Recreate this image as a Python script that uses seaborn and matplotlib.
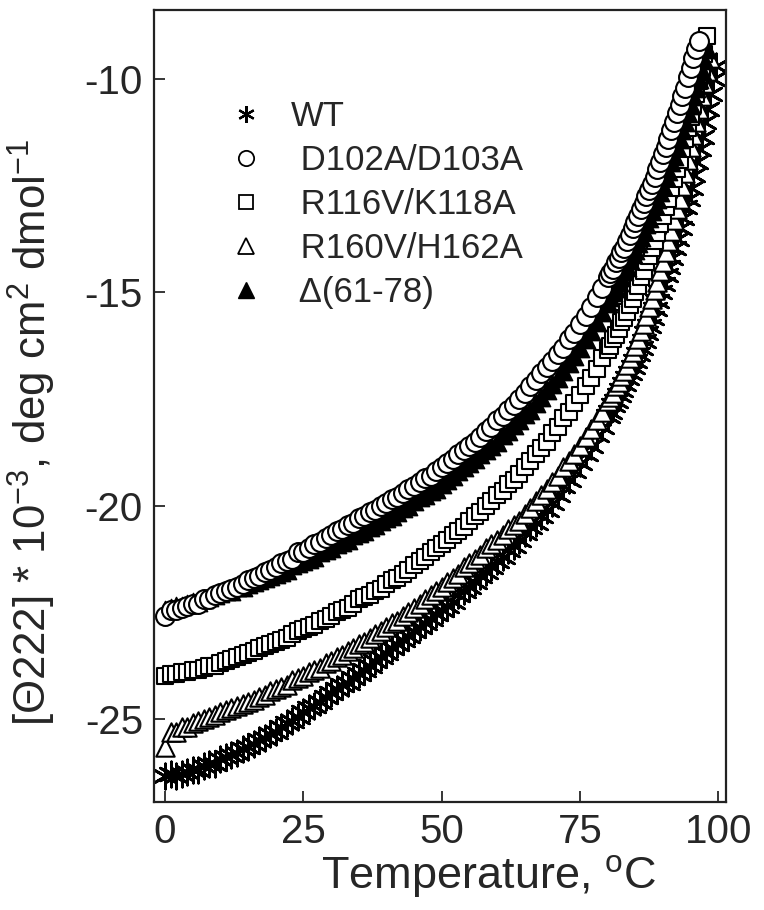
import numpy as np
import pandas as pd
import matplotlib
matplotlib.use("Agg")
import matplotlib.pyplot as plt
import seaborn as sns
from matplotlib.lines import Line2D

# ---------------- data ----------------
series_names = ["WT", "D102A/D103A", "R116V/K118A", "R160V/H162A", "\u0394(61-78)"]

# temperatures: 1 degC steps 0..80, then 0.5 degC steps above 80
temp_low = list(range(0, 81))

wt_low = [-26.35, -26.3, -26.35, -26.3, -26.25, -26.2, -26.2, -26.1, -26.05, -26.05,
          -25.95, -25.9, -25.85, -25.8, -25.7, -25.65, -25.6, -25.5, -25.45, -25.35,
          -25.3, -25.2, -25.1, -25.05, -24.95, -24.85, -24.75, -24.7, -24.6, -24.5,
          -24.4, -24.3, -24.2, -24.15, -24.05, -23.95, -23.85, -23.75, -23.65, -23.55,
          -23.45, -23.35, -23.25, -23.15, -23.05, -22.95, -22.85, -22.75, -22.65, -22.55,
          -22.45, -22.35, -22.25, -22.1, -22.0, -21.9, -21.8, -21.65, -21.55, -21.45,
          -21.3, -21.2, -21.05, -20.95, -20.8, -20.65, -20.5, -20.4, -20.25, -20.1,
          -19.95, -19.75, -19.55, -19.4, -19.2, -19.0, -18.8, -18.6, -18.35, -18.15,
          -17.9]
wt_high = [-17.8, -17.65, -17.55, -17.4, -17.3, -17.15, -17.0, -16.9, -16.75, -16.6,
           -16.45, -16.3, -16.15, -15.95, -15.8, -15.6, -15.4, -15.2, -15.0, -14.8,
           -14.6, -14.4, -14.2, -13.95, -13.75, -13.5, -13.25, -13.0, -12.8, -12.55,
           -12.25, -11.95, -11.65, -11.35, -11.0, -10.7, -10.35, -10.0, -9.7]

d102_low = [-22.6, -22.45, -22.45, -22.4, -22.35, -22.3, -22.3, -22.2, -22.2, -22.1,
            -22.05, -22.0, -21.95, -21.9, -21.85, -21.75, -21.7, -21.65, -21.55, -21.5,
            -21.45, -21.35, -21.3, -21.25, -21.1, -21.1, -21.0, -20.9, -20.85, -20.75,
            -20.7, -20.6, -20.55, -20.45, -20.4, -20.3, -20.25, -20.15, -20.1, -20.0,
            -19.95, -19.85, -19.8, -19.7, -19.6, -19.55, -19.45, -19.35, -19.3, -19.2,
            -19.1, -19.0, -18.9, -18.8, -18.7, -18.6, -18.5, -18.4, -18.25, -18.15,
            -18.0, -17.9, -17.75, -17.65, -17.5, -17.35, -17.2, -17.05, -16.9, -16.75,
            -16.6, -16.45, -16.3, -16.1, -15.95, -15.75, -15.55, -15.35, -15.1, -14.9,
            -14.65]
d102_high = [-14.55, -14.45, -14.3, -14.2, -14.05, -13.95, -13.8, -13.65, -13.5, -13.35,
             -13.2, -13.05, -12.9, -12.75, -12.6, -12.45, -12.3, -12.1, -11.95, -11.75,
             -11.6, -11.4, -11.2, -11.0, -10.8, -10.6, -10.4, -10.2, -9.95, -9.75,
             -9.5, -9.3, -9.1]

r116_low = [-24.0, -23.95, -23.95, -23.9, -23.9, -23.85, -23.85, -23.8, -23.75, -23.75,
            -23.7, -23.65, -23.6, -23.55, -23.5, -23.45, -23.4, -23.35, -23.3, -23.25,
            -23.2, -23.15, -23.1, -23.0, -22.95, -22.9, -22.85, -22.8, -22.7, -22.65,
            -22.6, -22.5, -22.45, -22.4, -22.3, -22.2, -22.15, -22.1, -22.0, -21.95,
            -21.85, -21.75, -21.7, -21.6, -21.5, -21.4, -21.3, -21.2, -21.1, -21.0,
            -20.9, -20.8, -20.7, -20.6, -20.5, -20.35, -20.25, -20.15, -20.0, -19.9,
            -19.75, -19.65, -19.5, -19.4, -19.25, -19.1, -18.95, -18.8, -18.65, -18.5,
            -18.3, -18.15, -17.95, -17.8, -17.6, -17.4, -17.2, -17.0, -16.8, -16.55,
            -16.35]
r116_high = [-16.25, -16.1, -16.0, -15.85, -15.7, -15.6, -15.45, -15.3, -15.15, -15.0,
             -14.85, -14.65, -14.5, -14.3, -14.15, -13.95, -13.8, -13.6, -13.4, -13.2,
             -13.0, -12.8, -12.55, -12.35, -12.1, -11.9, -11.65, -11.4, -11.15, -10.9,
             -10.6, -10.35, -10.05, -9.75, -9.4, -9.0]

r160_low = [-25.65, -25.3, -25.3, -25.2, -25.2, -25.1, -25.05, -25.0, -24.95, -24.9,
            -24.85, -24.8, -24.75, -24.7, -24.65, -24.6, -24.55, -24.5, -24.45, -24.35,
            -24.3, -24.25, -24.2, -24.1, -24.05, -24.0, -23.9, -23.85, -23.8, -23.7,
            -23.65, -23.55, -23.5, -23.4, -23.35, -23.25, -23.2, -23.1, -23.0, -22.95,
            -22.85, -22.75, -22.7, -22.6, -22.5, -22.4, -22.3, -22.2, -22.1, -22.0,
            -21.9, -21.8, -21.7, -21.6, -21.45, -21.35, -21.25, -21.15, -21.0, -20.9,
            -20.8, -20.7, -20.55, -20.45, -20.35, -20.2, -20.05, -19.9, -19.75, -19.6,
            -19.45, -19.3, -19.1, -18.95, -18.8, -18.6, -18.4, -18.2, -18.0, -17.8,
            -17.55]
r160_high = [-17.45, -17.35, -17.2, -17.1, -16.95, -16.85, -16.7, -16.55, -16.4, -16.25,
             -16.1, -15.9, -15.75, -15.55, -15.35, -15.15, -14.95, -14.75, -14.5, -14.3,
             -14.05, -13.8, -13.55, -13.3, -13.05, -12.8, -12.5, -12.2, -11.9, -11.6,
             -11.3, -11.0, -10.7, -10.4, -10.1, -9.8, -9.5]

del61_low = [-22.45, -22.4, -22.35, -22.35, -22.3, -22.25, -22.25, -22.2, -22.15, -22.1,
             -22.05, -22.0, -22.0, -21.9, -21.9, -21.85, -21.8, -21.75, -21.7, -21.65,
             -21.6, -21.55, -21.5, -21.4, -21.35, -21.3, -21.25, -21.2, -21.1, -21.05,
             -21.0, -20.9, -20.85, -20.8, -20.7, -20.65, -20.6, -20.5, -20.45, -20.35,
             -20.3, -20.25, -20.15, -20.05, -20.0, -19.9, -19.8, -19.75, -19.65, -19.6,
             -19.5, -19.4, -19.3, -19.2, -19.1, -19.0, -18.9, -18.8, -18.7, -18.6,
             -18.5, -18.35, -18.25, -18.1, -18.0, -17.85, -17.75, -17.6, -17.45, -17.3,
             -17.15, -17.0, -16.85, -16.65, -16.5, -16.3, -16.1, -15.9, -15.7, -15.45,
             -15.25]
del61_high = [-15.1, -15.0, -14.9, -14.75, -14.65, -14.5, -14.4, -14.25, -14.1, -14.0,
              -13.85, -13.7, -13.55, -13.4, -13.25, -13.1, -12.95, -12.8, -12.65, -12.5,
              -12.3, -12.15, -11.95, -11.8, -11.6, -11.4, -11.2, -11.0, -10.8, -10.6,
              -10.4, -10.2, -10.0, -9.8, -9.55, -9.3]

x_ticks = [0, 25, 50, 75, 100]
y_ticks = [-25, -20, -15, -10]


def temps_for(high):
    return temp_low + [80.5 + 0.5 * i for i in range(len(high))]


frames = []
for name, lo, hi in [("WT", wt_low, wt_high),
                     ("D102A/D103A", d102_low, d102_high),
                     ("R116V/K118A", r116_low, r116_high),
                     ("R160V/H162A", r160_low, r160_high),
                     ("\u0394(61-78)", del61_low, del61_high)]:
    frames.append(pd.DataFrame({"T": temps_for(hi), "v": lo + hi, "series": name}))
df = pd.concat(frames, ignore_index=True)

# ---------------- style ----------------
sns.set_style("ticks")
plt.rcParams["font.family"] = ["Liberation Sans", "DejaVu Sans"]
plt.rcParams["mathtext.fontset"] = "custom"
plt.rcParams["mathtext.rm"] = "Liberation Sans"
plt.rcParams["axes.unicode_minus"] = False

fig = plt.figure(figsize=(7.64, 9.10), dpi=100)
ax = fig.add_axes([0.2016, 0.1187, 0.7487, 0.8703])

asterisk = (6, 2, 0)
style = {
    "WT": dict(marker=asterisk, s=330, color="black", linewidth=2.0, zorder=2),
    "R160V/H162A": dict(marker="^", s=175, facecolor="white", edgecolor="black", linewidth=1.5, zorder=3),
    "R116V/K118A": dict(marker="s", s=125, facecolor="white", edgecolor="black", linewidth=1.5, zorder=4),
    "\u0394(61-78)": dict(marker="^", s=175, facecolor="black", edgecolor="black", linewidth=1.0, zorder=5),
    "D102A/D103A": dict(marker="o", s=185, facecolor="white", edgecolor="black", linewidth=1.5, zorder=6),
}
for name in ["WT", "R160V/H162A", "R116V/K118A", "\u0394(61-78)", "D102A/D103A"]:
    sub = df[df["series"] == name]
    sns.scatterplot(data=sub, x="T", y="v", ax=ax, legend=False, **style[name])

ax.set_xlim(-2.0, 101.4)
ax.set_ylim(-26.95, -8.38)
ax.set_xticks(x_ticks)
ax.set_yticks(y_ticks)
ax.tick_params(direction="in", length=8, width=1.3, labelsize=29, pad=8,
               top=False, right=False)
for sp in ax.spines.values():
    sp.set_linewidth(1.6)
    sp.set_color("#222222")

ax.set_xlabel("Temperature, $^{\\mathregular{o}}$C", fontsize=32.5)
ax.xaxis.set_label_coords(0.585, -0.065)
ax.set_ylabel("[\u0398222] * 10$^{\\mathregular{-3}}$, deg cm$^{\\mathregular{2}}$ dmol$^{\\mathregular{-1}}$",
              fontsize=31.5)
ax.yaxis.set_label_coords(-0.168, 0.467)

# legend
handles = [
    Line2D([], [], linestyle="none", marker=asterisk, color="black", markersize=12, markeredgewidth=1.6),
    Line2D([], [], linestyle="none", marker="o", markerfacecolor="white", markeredgecolor="black", markersize=11, markeredgewidth=1.3),
    Line2D([], [], linestyle="none", marker="s", markerfacecolor="white", markeredgecolor="black", markersize=10, markeredgewidth=1.3),
    Line2D([], [], linestyle="none", marker="^", markerfacecolor="white", markeredgecolor="black", markersize=11, markeredgewidth=1.3),
    Line2D([], [], linestyle="none", marker="^", markerfacecolor="black", markeredgecolor="black", markersize=11, markeredgewidth=1.0),
]
labels = ["WT"] + [" " + n for n in series_names[1:]]
ax.legend(handles, labels, loc="upper left", bbox_to_anchor=(0.107, 0.904), frameon=False,
          fontsize=25, handlelength=1.0, handletextpad=0.78, labelspacing=0.32,
          borderaxespad=0.0)

fig.savefig("out.png", dpi=100)
